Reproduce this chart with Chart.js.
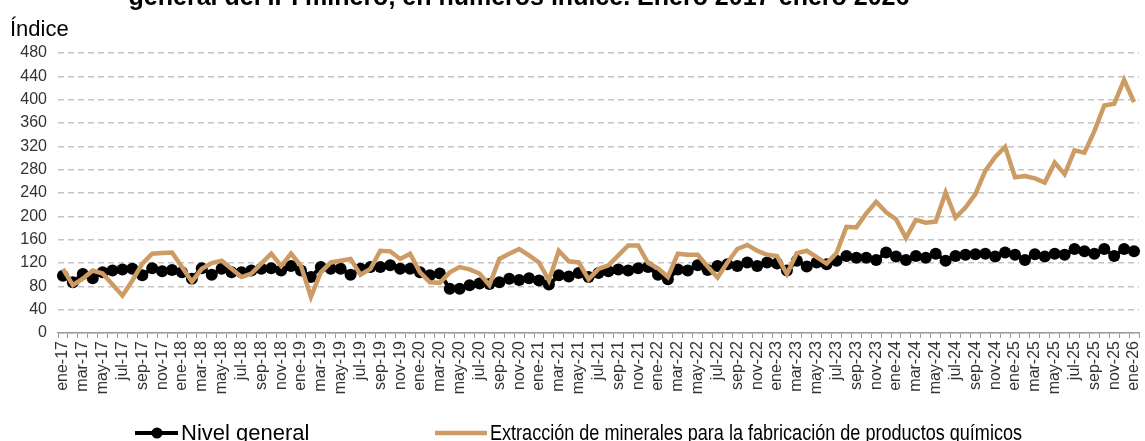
<!DOCTYPE html>
<html>
<head>
<meta charset="utf-8">
<script src="https://cdn.jsdelivr.net/npm/chart.js"></script>
<style>
  html, body { margin: 0; padding: 0; background: #fff; }
  #wrap { width: 1145px; height: 441px; position: relative; }
</style>
</head>
<body>
<div id="wrap"><canvas id="ipiChart"></canvas></div>
<script>
// Meses y años del eje horizontal
const meses = ['ene', 'feb', 'mar', 'abr', 'may', 'jun', 'jul', 'ago', 'sep', 'oct', 'nov', 'dic'];
const anios = ['17', '18', '19', '20', '21', '22', '23', '24', '25', '26'];

// Nivel general del IPI minero
const nivelGeneral = [
  98, 87, 101, 94, 104, 107, 109, 110, 99, 111, 106, 108,
  104, 93, 111, 100, 110, 104, 104, 107, 110, 111, 107, 115,
  107, 96, 113, 110, 110, 100, 110, 113, 113, 116, 110, 110,
  104, 99, 102, 76, 76, 82, 85, 84, 87, 93, 91, 94,
  90, 83, 99, 97, 103, 96, 103, 106, 109, 107, 111, 113,
  100, 92, 109, 107, 116, 108, 115, 118, 115, 121, 115, 121,
  119, 107, 124, 114, 121, 118, 124, 132, 129, 129, 125, 138,
  131, 125, 132, 129, 136, 124, 132, 134, 135, 136, 131, 138,
  134, 125, 135, 131, 136, 134, 144, 140, 136, 144, 132, 144,
  140
];

// Extracción de minerales para la fabricación de productos químicos
const mineralesQuimicos = [
  110, 82, 93, 107, 102, 83, 64, 90, 119, 136, 137, 138,
  113, 88, 110, 120, 124, 110, 96, 102, 119, 136, 115, 136,
  115, 62, 104, 121, 124, 127, 100, 110, 141, 140, 127, 136,
  104, 87, 86, 104, 113, 109, 102, 82, 127, 136, 144, 133,
  121, 90, 141, 123, 121, 92, 110, 116, 133, 150, 150, 120,
  111, 96, 136, 134, 134, 114, 95, 121, 144, 151, 141, 134,
  132, 101, 137, 141, 130, 119, 137, 182, 181, 205, 225, 207,
  195, 163, 194, 189, 191, 241, 198, 215, 238, 278, 302, 319,
  267, 269, 265, 258, 292, 272, 313, 309, 346, 390, 393, 434,
  396
];

const yMin = 0, yMax = 480, yStep = 40;

const etiquetas = [];
anios.forEach(a => meses.forEach(m => etiquetas.push(m + '-' + a)));
etiquetas.length = nivelGeneral.length;

const colorOro = '#CD9B64';
const fuente = '"Liberation Sans", Arial, sans-serif';

// Textos y leyenda dibujados a mano
const decoraciones = {
  id: 'decoraciones',
  afterDraw(chart) {
    const c = chart.ctx;
    c.save();
    c.fillStyle = '#000';
    c.textAlign = 'center';
    c.textBaseline = 'alphabetic';
    c.font = 'bold 25px ' + fuente;
    c.fillText('general del IPI minero, en números índice. Enero 2017-enero 2026', 519, 5, 802);

    c.textAlign = 'left';
    c.font = '22px ' + fuente;
    c.fillText('Índice', 10, 36);

    // leyenda
    const ly = 433;
    c.lineWidth = 4;
    c.strokeStyle = '#000';
    c.beginPath(); c.moveTo(135, ly); c.lineTo(178, ly); c.stroke();
    c.beginPath(); c.arc(157, ly, 5.5, 0, Math.PI * 2); c.fill();
    c.strokeStyle = colorOro;
    c.lineWidth = 4.5;
    c.beginPath(); c.moveTo(435, ly); c.lineTo(487, ly); c.stroke();

    c.fillStyle = '#000';
    c.font = '22px ' + fuente;
    c.textBaseline = 'middle';
    c.fillText('Nivel general', 181, ly + 1, 130);
    c.fillText('Extracción de minerales para la fabricación de productos químicos', 490, ly + 1, 532);
    c.restore();
  }
};

new Chart(document.getElementById('ipiChart'), {
  type: 'line',
  data: {
    labels: etiquetas,
    datasets: [{
      label: 'Nivel general',
      data: nivelGeneral,
      borderColor: '#000',
      backgroundColor: '#000',
      borderWidth: 4,
      pointRadius: 6,
      pointBorderWidth: 0,
      pointBackgroundColor: '#000',
      tension: 0,
      order: 1
    }, {
      label: 'Extracción de minerales para la fabricación de productos químicos',
      data: mineralesQuimicos,
      borderColor: colorOro,
      backgroundColor: colorOro,
      borderWidth: 4.5,
      pointRadius: 0,
      tension: 0,
      order: 0
    }]
  },
  plugins: [decoraciones],
  options: {
    responsive: true,
    maintainAspectRatio: false,
    animation: false,
    layout: { padding: { top: 53, right: 0, bottom: 40, left: 0 } },
    plugins: {
      legend: { display: false },
      tooltip: { enabled: false }
    },
    scales: {
      x: {
        offset: true,
        afterFit: s => { s.height = 68; s.paddingLeft = 0; s.paddingRight = 0; },
        grid: {
          offset: true,
          drawOnChartArea: false,
          drawTicks: true,
          tickLength: 5,
          color: '#9a9a9a'
        },
        border: { color: '#9a9a9a', width: 1.5 },
        ticks: {
          autoSkip: false,
          maxRotation: 90,
          minRotation: 90,
          padding: 3,
          color: '#333',
          font: { family: fuente, size: 16 },
          callback: (v, i) => (i % 2 === 0 ? etiquetas[i] : '')
        }
      },
      y: {
        min: yMin,
        max: yMax,
        afterFit: s => { s.width = 58; },
        ticks: {
          stepSize: yStep,
          padding: 11,
          color: '#333',
          font: { family: fuente, size: 16 }
        },
        grid: {
          drawTicks: false,
          color: '#c4c4c4',
          lineWidth: 1.5
        },
        border: { display: false, dash: [6, 4] }
      }
    }
  }
});
</script>
</body>
</html>
